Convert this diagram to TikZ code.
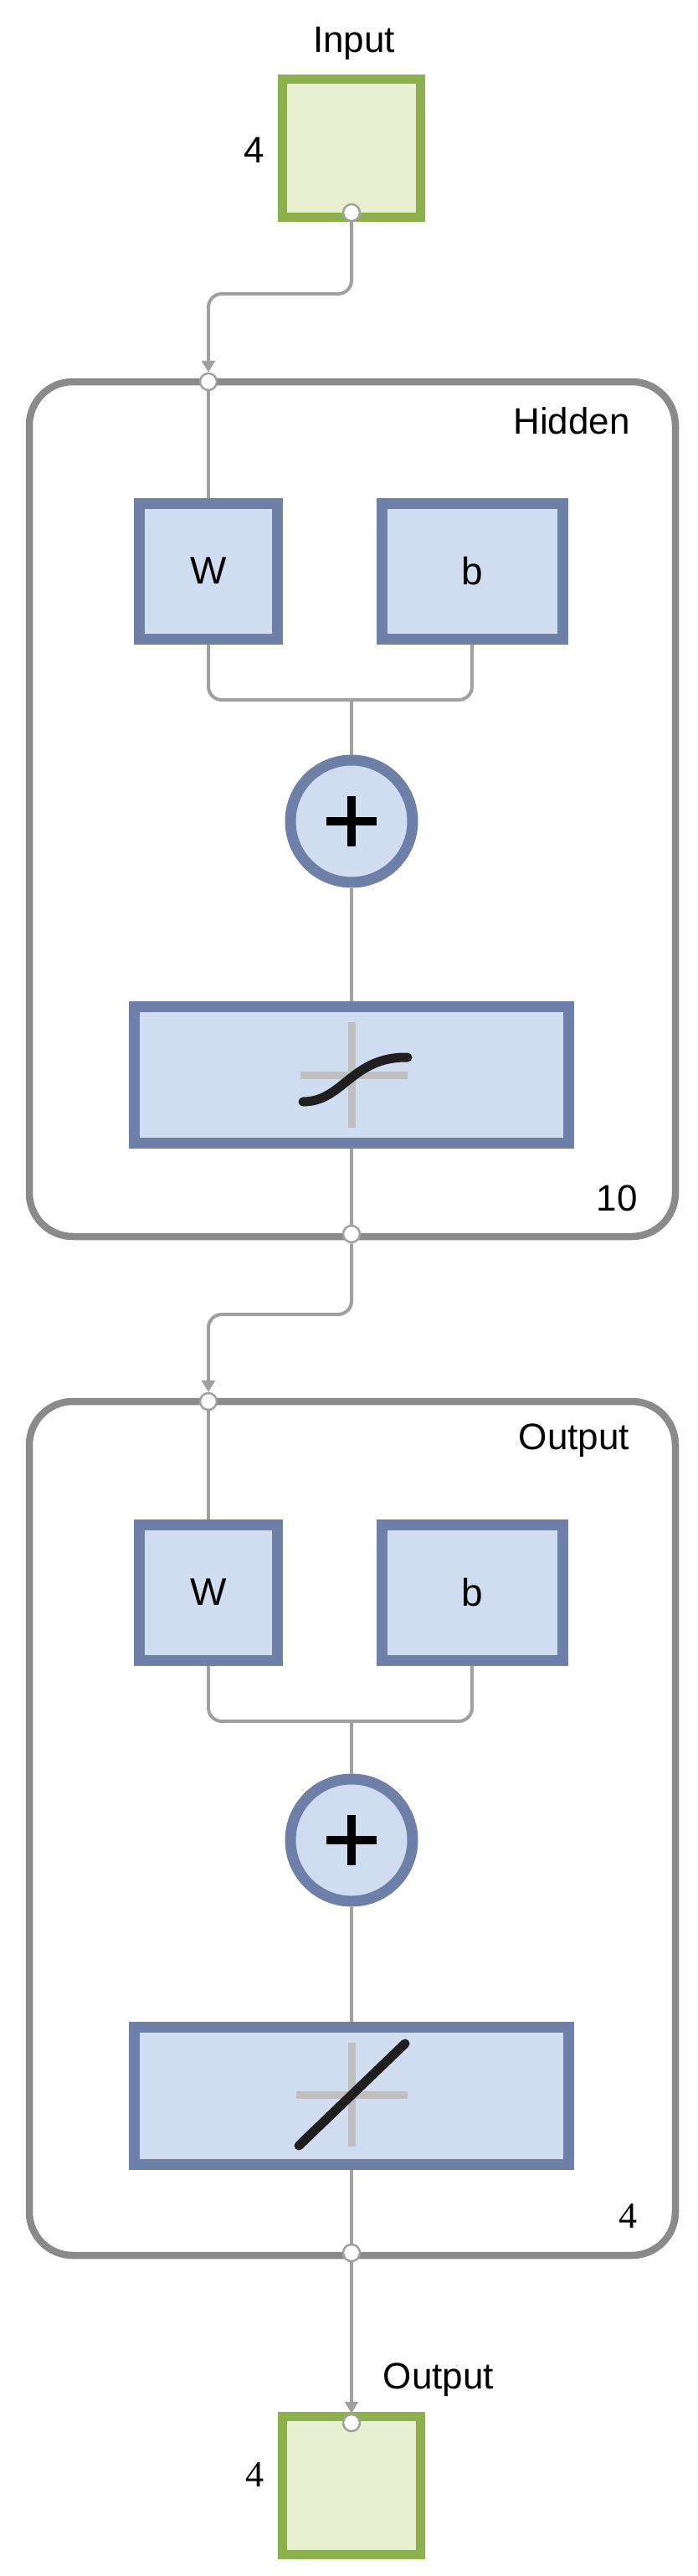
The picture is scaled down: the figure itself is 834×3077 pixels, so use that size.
\documentclass[tikz,border=0pt]{standalone}
\usepackage{fontspec}
\setmainfont{Liberation Sans}
\newfontfamily\serifnum{Liberation Serif}
\usetikzlibrary{arrows.meta}
\definecolor{lay}{HTML}{8A8A8A}
\definecolor{con}{HTML}{A0A0A0}
\definecolor{bfill}{HTML}{D0DCF0}
\definecolor{bdraw}{HTML}{6F80A8}
\definecolor{gfill}{HTML}{E7EFD0}
\definecolor{gdraw}{HTML}{8CB14C}
\tikzset{
 layer/.style={draw=lay,line width=8.5pt,rounded corners=52pt},
 blk/.style={draw=bdraw,fill=bfill,line width=13pt,inner sep=0pt},
 io/.style={draw=gdraw,fill=gfill,line width=11pt,minimum width=165pt,minimum height=165pt,inner sep=0pt},
 port/.style={circle,draw=con,fill=white,line width=2.5pt,minimum size=20pt,inner sep=0pt},
 wire/.style={draw=con,line width=4pt,rounded corners=16pt},
 lbl/.style={font=\fontsize{44pt}{48pt}\selectfont,inner sep=0pt},
 blbl/.style={font=\fontsize{46pt}{50pt}\selectfont,inner sep=0pt},
 cross/.style={draw=black!25,line width=9pt},
 curve/.style={draw=black!88,line width=11pt,line cap=round},
}
\begin{document}
\begin{tikzpicture}[x=1pt,y=-1pt]
\useasboundingbox (0,0) rectangle (834,3077);
% layers
\draw[layer] (35,456) rectangle (807,1477);
\draw[layer] (35,1674) rectangle (807,2694);
\node[lbl] at (683,503) {Hidden};
\node[lbl] at (737,1431) {10};
\node[lbl] at (686,1721) {Output};
\node[lbl,font=\fontsize{44pt}{48pt}\serifnum] at (750,2647) {4};
% input
\node[lbl] (inl) at (423,52) {Input};
\node[io] (in) at (420,177) {};
\node[lbl] (inn) at (304,179) {4};
% hidden blocks
\node[blk,minimum width=165pt,minimum height=162pt] (w1) at (249,682) {};
\node[blbl] at (w1) {W};
\node[blk,minimum width=216pt,minimum height=162pt] (b1) at (564,682) {};
\node[blbl] at (b1) {b};
\node[blk,circle,minimum size=146pt] (s1) at (420,981) {};
\node[blk,minimum width=519pt,minimum height=163pt] (f1) at (420,1284) {};
% output blocks
\node[blk,minimum width=165pt,minimum height=162pt] (w2) at (249,1902) {};
\node[blbl] at (w2) {W};
\node[blk,minimum width=216pt,minimum height=162pt] (b2) at (564,1902) {};
\node[blbl] at (b2) {b};
\node[blk,circle,minimum size=146pt] (s2) at (420,2198) {};
\node[blk,minimum width=519pt,minimum height=164pt] (f2) at (420,2503) {};
% output
\node[io] (out) at (420,2969) {};
\node[lbl] at (524,2843) {Output};
\node[lbl,font=\fontsize{44pt}{48pt}\serifnum] at (304,2956) {4};
% icons
\foreach \s in {s1,s2}{
 \draw[line width=10pt,black] ([xshift=-30pt]\s.center) -- ([xshift=30pt]\s.center);
 \draw[line width=10pt,black] ([yshift=-30pt]\s.center) -- ([yshift=30pt]\s.center);}
\draw[cross] (359,1284) -- (487,1284) (420,1221) -- (420,1347);
\draw[curve] (362,1316) .. controls (410,1316) and (420,1262) .. (487,1263);
\draw[cross] (354,2502) -- (487,2502) (420,2440) -- (420,2564);
\draw[curve] (357,2563) -- (484,2441);
% ports and wires
\coordinate (j1) at (420,836);
\coordinate (j2) at (420,2056);
\draw[wire] (w1.south) |- (j1); \draw[wire] (b1.south) |- (j1);
\draw[wire,rounded corners=0] (j1) -- (s1.north);
\draw[wire] (w2.south) |- (j2); \draw[wire] (b2.south) |- (j2);
\draw[wire,rounded corners=0] (j2) -- (s2.north);
\draw[wire,rounded corners=0] (s1.south) -- (f1.north);
\draw[wire,rounded corners=0] (s2.south) -- (f2.north);
\node[port] (pin) at (420,254) {};
\node[port] (h1in) at (249,456) {};
\node[port] (h1out) at (420,1474) {};
\node[port] (o1in) at (249,1674) {};
\node[port] (o1out) at (420,2691) {};
\node[port] (pout) at (420,2894) {};
\draw[wire,-{Triangle[length=14pt,width=16pt]}] (pin.south) -- (420,351) -- (249,351) -- (h1in.north);
\draw[wire] (h1in.south) -- (w1.north);
\draw[wire] (f1.south) -- (h1out.north);
\draw[wire,-{Triangle[length=14pt,width=16pt]}] (h1out.south) -- (420,1570) -- (249,1570) -- (o1in.north);
\draw[wire] (o1in.south) -- (w2.north);
\draw[wire] (f2.south) -- (o1out.north);
\draw[wire,-{Triangle[length=14pt,width=16pt]}] (o1out.south) -- (pout.north);
\end{tikzpicture}
\end{document}
